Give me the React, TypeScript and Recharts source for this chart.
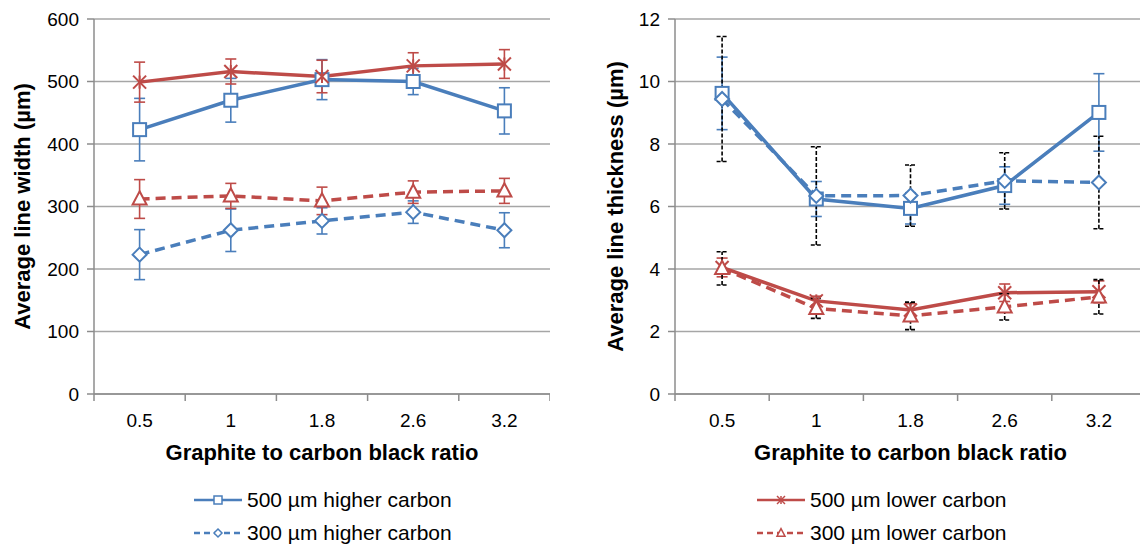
import React from "react";
import { LineChart, Line, XAxis, YAxis, CartesianGrid, ErrorBar } from "recharts";

const ratios = ["0.5", "1", "1.8", "2.6", "3.2"];

// average line width (µm)
const width500Higher = [423, 470, 503, 500, 453];
const width500HigherErr = [50, 35, 32, 21, 37];
const width500Lower = [499, 516, 508, 525, 528];
const width500LowerErr = [32, 20, 26, 21, 23];
const width300Higher = [223, 262, 277, 291, 262];
const width300HigherErr = [40, 34, 21, 18, 28];
const width300Lower = [312, 317, 309, 323, 325];
const width300LowerErr = [31, 20, 22, 18, 20];
const widthTicks = [0, 100, 200, 300, 400, 500, 600];

// average line thickness (µm)
const thick500Higher = [9.62, 6.24, 5.94, 6.67, 9.01];
const thick500HigherErr = [1.16, 0.56, 0.5, 0.6, 1.24];
const thick500Lower = [4.05, 2.98, 2.69, 3.24, 3.27];
const thick500LowerErr = [0.3, 0.15, 0.2, 0.28, 0.35];
const thick300Higher = [9.44, 6.34, 6.35, 6.82, 6.77];
const thick300HigherErr = [2.0, 1.57, 0.98, 0.9, 1.48];
const thick300Lower = [4.02, 2.74, 2.5, 2.79, 3.11];
const thick300LowerErr = [0.53, 0.32, 0.44, 0.42, 0.55];
const thickTicks = [0, 2, 4, 6, 8, 10, 12];

const BLUE = "#4A7EBB";
const RED = "#BE4B48";
const GRID = "#a6a6a6";
const AXIS = "#8c8c8c";
const FONT = '"Liberation Sans", Arial, Helvetica, sans-serif';

type Shape = "square" | "diamond" | "triangle" | "star";

const seriesDefs: { key: string; name: string; color: string; dashed: boolean; shape: Shape }[] = [
  { key: "h500", name: "500 µm higher carbon", color: BLUE, dashed: false, shape: "square" },
  { key: "l500", name: "500 µm lower carbon", color: RED, dashed: false, shape: "star" },
  { key: "h300", name: "300 µm higher carbon", color: BLUE, dashed: true, shape: "diamond" },
  { key: "l300", name: "300 µm lower carbon", color: RED, dashed: true, shape: "triangle" },
];

const widthData = ratios.map((ratio, i) => ({
  ratio,
  h500: width500Higher[i],
  h500Err: width500HigherErr[i],
  l500: width500Lower[i],
  l500Err: width500LowerErr[i],
  h300: width300Higher[i],
  h300Err: width300HigherErr[i],
  l300: width300Lower[i],
  l300Err: width300LowerErr[i],
}));

const thickData = ratios.map((ratio, i) => ({
  ratio,
  h500: thick500Higher[i],
  h500Err: thick500HigherErr[i],
  l500: thick500Lower[i],
  l500Err: thick500LowerErr[i],
  h300: thick300Higher[i],
  h300Err: thick300HigherErr[i],
  l300: thick300Lower[i],
  l300Err: thick300LowerErr[i],
}));

function Marker({ cx, cy, shape, color, size, sw = 2 }: { cx: number; cy: number; shape: Shape; color: string; size: number; sw?: number }) {
  const r = size / 2;
  if (shape === "square") {
    return <rect x={cx - r} y={cy - r} width={size} height={size} fill="#fff" stroke={color} strokeWidth={sw} />;
  }
  if (shape === "diamond") {
    return (
      <polygon
        points={`${cx},${cy - r} ${cx + r},${cy} ${cx},${cy + r} ${cx - r},${cy}`}
        fill="#fff"
        stroke={color}
        strokeWidth={sw}
      />
    );
  }
  if (shape === "triangle") {
    return (
      <polygon
        points={`${cx},${cy - r * 1.1} ${cx + r},${cy + r * 0.8} ${cx - r},${cy + r * 0.8}`}
        fill="#fff"
        stroke={color}
        strokeWidth={sw}
      />
    );
  }
  return (
    <g stroke={color} strokeWidth={sw}>
      <line x1={cx - r} y1={cy - r} x2={cx + r} y2={cy + r} />
      <line x1={cx - r} y1={cy + r} x2={cx + r} y2={cy - r} />
      <line x1={cx} y1={cy - r} x2={cx} y2={cy + r} />
    </g>
  );
}

const markerSize: Record<Shape, number> = { square: 13, diamond: 14, triangle: 14, star: 13 };

// axis title; recharts clones its own label props in, so only tx/ty/rot/text are used
function AxisTitle({ tx, ty, rot, text }: { tx: number; ty: number; rot: number; text: string }) {
  return (
    <text
      x={tx}
      y={ty}
      transform={rot ? `rotate(${rot} ${tx} ${ty})` : undefined}
      textAnchor="middle"
      dominantBaseline="central"
      fontSize={22}
      fontWeight="bold"
      fontFamily={FONT}
      fill="#000"
    >
      {text}
    </text>
  );
}

function Panel({
  data,
  ticks,
  yTitle,
  left,
  axisWidth,
  plotWidth,
  titleX,
  blackErr,
}: {
  data: Record<string, number | string>[];
  ticks: number[];
  yTitle: string;
  left: number;
  axisWidth: number;
  plotWidth: number;
  titleX: number;
  blackErr: boolean;
}) {
  const step = plotWidth / ratios.length;
  const chartWidth = axisWidth + plotWidth;
  const top = 19;
  const plotH = 375;
  const last = ratios.length - 1;

  const renderTick = (p: any) => {
    const { x, y, payload, index } = p;
    return (
      <g>
        <line x1={x - step / 2} y1={y} x2={x - step / 2} y2={y + 7} stroke={AXIS} strokeWidth={1.5} />
        {index === last && (
          <line x1={x + step / 2} y1={y} x2={x + step / 2} y2={y + 7} stroke={AXIS} strokeWidth={1.5} />
        )}
        <text x={x} y={y + 33} textAnchor="middle" fontSize={19} fontFamily={FONT} fill="#000">
          {payload.value}
        </text>
      </g>
    );
  };

  return (
    <div style={{ position: "absolute", left, top: 0 }}>
      <LineChart width={chartWidth} height={470} data={data} margin={{ top, right: 0, bottom: 0, left: 0 }}>
        <CartesianGrid vertical={false} stroke={GRID} strokeWidth={1.5} />
        <XAxis
          dataKey="ratio"
          height={76}
          padding={{ left: step / 2, right: step / 2 }}
          axisLine={{ stroke: AXIS, strokeWidth: 1.5 }}
          tickLine={false}
          tickSize={0}
          tickMargin={0}
          interval={0}
          tick={renderTick}
          label={<AxisTitle tx={axisWidth + plotWidth / 2} ty={452} rot={0} text="Graphite to carbon black ratio" />}
        />
        <YAxis
          width={axisWidth}
          domain={[ticks[0], ticks[ticks.length - 1]]}
          allowDataOverflow
          ticks={ticks}
          interval={0}
          axisLine={{ stroke: AXIS, strokeWidth: 1.5 }}
          tickLine={{ stroke: AXIS, strokeWidth: 1.5 }}
          tickSize={7}
          tickMargin={8}
          tick={{ fontSize: 19, fill: "#000", fontFamily: FONT }}
          label={<AxisTitle tx={titleX} ty={top + plotH / 2} rot={-90} text={yTitle} />}
        />
        {seriesDefs.map((s) => {
          const black = blackErr && s.dashed;
          return (
            <Line
              key={s.key}
              dataKey={s.key}
              name={s.name}
              type="linear"
              stroke={s.color}
              strokeWidth={3.5}
              strokeDasharray={s.dashed ? "10 6" : undefined}
              isAnimationActive={false}
              activeDot={false}
              dot={(p: any) => (
                <Marker
                  key={`${s.key}-${p.index}`}
                  cx={p.cx}
                  cy={p.cy}
                  shape={s.shape}
                  color={s.color}
                  size={markerSize[s.shape]}
                />
              )}
            >
              <ErrorBar
                dataKey={`${s.key}Err`}
                width={5.5}
                stroke={black ? "#000" : s.color}
                strokeWidth={1.6}
                strokeDasharray={black ? "4 2" : undefined}
                direction="y"
              />
            </Line>
          );
        })}
      </LineChart>
    </div>
  );
}

function LegendItem({ x, y, s }: { x: number; y: number; s: (typeof seriesDefs)[number] }) {
  return (
    <div style={{ position: "absolute", left: x, top: y - 14, height: 28, display: "flex", alignItems: "center" }}>
      <svg width={50} height={20} style={{ display: "block" }}>
        <line
          x1={0}
          y1={10}
          x2={48}
          y2={10}
          stroke={s.color}
          strokeWidth={2.5}
          strokeDasharray={s.dashed ? "6 4" : undefined}
        />
        <Marker cx={24} cy={10} shape={s.shape} color={s.color} size={8} sw={1.5} />
      </svg>
      <span style={{ fontFamily: FONT, fontSize: 21, color: "#000", marginLeft: 3, whiteSpace: "nowrap" }}>{s.name}</span>
    </div>
  );
}

export default function App() {
  const legendCols = [194, 757];
  const legendRows = [500, 533];
  const order = [
    [seriesDefs[0], seriesDefs[1]],
    [seriesDefs[2], seriesDefs[3]],
  ];
  return (
    <div
      style={{
        position: "absolute",
        left: 0,
        top: 0,
        width: 1140,
        height: 547,
        overflow: "hidden",
        background: "#fff",
      }}
    >
      <Panel
        data={widthData}
        ticks={widthTicks}
        yTitle="Average line width (µm)"
        left={0}
        axisWidth={94}
        plotWidth={456}
        titleX={22}
        blackErr={false}
      />
      <Panel
        data={thickData}
        ticks={thickTicks}
        yTitle="Average line thickness (µm)"
        left={580}
        axisWidth={95}
        plotWidth={471}
        titleX={35}
        blackErr={true}
      />
      {order.map((row, ri) =>
        row.map((s, ci) => <LegendItem key={s.key} x={legendCols[ci]} y={legendRows[ri]} s={s} />)
      )}
    </div>
  );
}
